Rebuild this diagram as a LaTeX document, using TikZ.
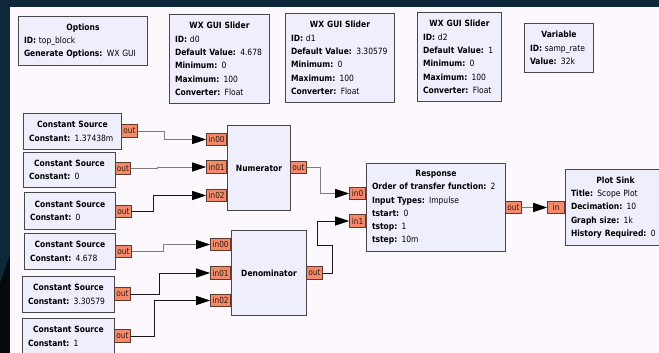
\documentclass[tikz,border=0pt]{standalone}
\usepackage{fontspec}
\setmainfont{DejaVu Sans}[FakeStretch=0.88]
\usetikzlibrary{arrows.meta}
\definecolor{navy}{RGB}{13,40,56}
\definecolor{blackish}{RGB}{6,10,14}
\definecolor{canvas}{RGB}{253,248,253}
\definecolor{blkfill}{RGB}{238,238,252}
\definecolor{bord}{RGB}{72,72,72}
\definecolor{portfill}{RGB}{244,138,106}
\definecolor{portbord}{RGB}{90,60,50}
\definecolor{porttext}{RGB}{50,25,15}
\definecolor{wiregray}{RGB}{125,125,125}
\definecolor{wiredark}{RGB}{25,25,25}
\newcommand\btl[1]{\makebox[\linewidth][c]{\bfseries #1}}
\newcommand\fld[2]{\mbox{\textbf{#1:} #2}}
\begin{document}
\begin{tikzpicture}[x=1pt,y=-1pt,
  blk/.style={draw=bord, fill=blkfill, line width=1pt, rectangle, anchor=north west,
    inner xsep=5.5pt, inner ysep=0pt, align=left, font=\fontsize{8.6}{13.3}\selectfont},
  cblk/.style={draw=bord, fill=blkfill, line width=1pt, rectangle, anchor=north west,
    inner sep=0pt, align=center, font=\fontsize{8.6}{13.3}\selectfont\bfseries},
  port/.style={draw=portbord, fill=portfill, line width=0.8pt, inner xsep=1pt, inner ysep=0pt,
    minimum height=12.5pt, font=\fontsize{8.4}{9}\selectfont, text=porttext},
  wire/.style={line width=0.9pt, draw=wiregray, -{Triangle[length=14pt,width=9pt,color=black]}},
  wireb/.style={line width=0.9pt, draw=wiredark, -{Triangle[length=14pt,width=9pt,color=black]}}
]
\useasboundingbox (0,0) rectangle (659,353);
\clip (0,0) rectangle (659,353);
% background
\fill[navy] (0,0) rectangle (659,353);
\fill[blackish] (0,283) -- (10,255) -- (10,353) -- (0,353) -- cycle;
\fill[canvas] (10,7.5) rectangle (659,353);

% top blocks
\node[blk, text width=118pt, minimum height=49pt] (opt) at (18,16)
  {\btl{Options}\\\fld{ID}{top\_block}\\\fld{Generate Options}{WX GUI}};
\node[blk, text width=89pt, minimum height=89pt] (s0) at (169,14)
  {\btl{WX GUI Slider}\\\fld{ID}{d0}\\\fld{Default Value}{4.678}\\\fld{Minimum}{0}\\\fld{Maximum}{100}\\\fld{Converter}{Float}};
\node[blk, text width=98pt, minimum height=89pt] (s1) at (285,13)
  {\btl{WX GUI Slider}\\\fld{ID}{d1}\\\fld{Default Value}{3.30579}\\\fld{Minimum}{0}\\\fld{Maximum}{100}\\\fld{Converter}{Float}};
\node[blk, text width=73pt, minimum height=89pt] (s2) at (417,12)
  {\btl{WX GUI Slider}\\\fld{ID}{d2}\\\fld{Default Value}{1}\\\fld{Minimum}{0}\\\fld{Maximum}{100}\\\fld{Converter}{Float}};
\node[blk, text width=58pt, minimum height=49pt] (var) at (524,23)
  {\btl{Variable}\\\fld{ID}{samp\_rate}\\\fld{Value}{32k}};

% constant sources
\node[blk, text width=87pt, minimum height=36pt] (cs1) at (23,113)
  {\btl{Constant Source}\\\fld{Constant}{1.37438m}};
\node[blk, text width=81pt, minimum height=35pt] (cs2) at (23,152)
  {\btl{Constant Source}\\\fld{Constant}{0}};
\node[blk, text width=80pt, minimum height=37pt] (cs3) at (24,192)
  {\btl{Constant Source}\\\fld{Constant}{0}};
\node[blk, text width=80pt, minimum height=36pt] (cs4) at (24,233)
  {\btl{Constant Source}\\\fld{Constant}{4.678}};
\node[blk, text width=81pt, minimum height=36pt] (cs5) at (22,276)
  {\btl{Constant Source}\\\fld{Constant}{3.30579}};
\node[blk, text width=81pt, minimum height=36pt] (cs6) at (22,318)
  {\btl{Constant Source}\\\fld{Constant}{1}};

% processing blocks
\node[cblk, minimum width=63pt, minimum height=85pt] (num) at (227,125) {Numerator};
\node[cblk, minimum width=75pt, minimum height=85pt] (den) at (231,230) {Denominator};
\node[blk, text width=128pt, minimum height=88pt] (res) at (366,163)
  {\btl{Response}\\\fld{Order of transfer function}{2}\\\fld{Input Types}{Impulse}\\\fld{tstart}{0}\\\fld{tstop}{1}\\\fld{tstep}{10m}};
\node[blk, text width=89pt, minimum height=76pt] (sink) at (565,169)
  {\btl{Plot Sink}\\\fld{Title}{Scope Plot}\\\fld{Decimation}{10}\\\fld{Graph size}{1k}\\\fld{History Required}{0}};

% ports
\node[port, minimum width=16pt, anchor=west] (cs1o) at (121,131) {out};
\node[port, minimum width=15pt, anchor=west] (cs2o) at (115,168.5) {out};
\node[port, minimum width=16pt, anchor=west] (cs3o) at (115,211.5) {out};
\node[port, minimum width=16pt, anchor=west] (cs4o) at (115,251.5) {out};
\node[port, minimum width=16pt, anchor=west] (cs5o) at (114,294) {out};
\node[port, minimum width=16pt, anchor=west] (cs6o) at (114,336) {out};

\node[port, minimum width=20pt, anchor=east] (n0) at (227,139.5) {in00};
\node[port, minimum width=20pt, anchor=east] (n1) at (227,167) {in01};
\node[port, minimum width=20pt, anchor=east] (n2) at (227,195.5) {in02};
\node[port, minimum width=16pt, anchor=west] (numo) at (290,167.5) {out};

\node[port, minimum width=20pt, anchor=east] (d0) at (231,244.5) {in00};
\node[port, minimum width=20pt, anchor=east] (d1) at (231,273) {in01};
\node[port, minimum width=20pt, anchor=east] (d2) at (231,300.5) {in02};
\node[port, minimum width=16pt, anchor=west] (deno) at (306,273) {out};

\node[port, minimum width=16pt, anchor=east] (ri0) at (366,193.5) {in0};
\node[port, minimum width=16pt, anchor=east] (ri1) at (366,221) {in1};
\node[port, minimum width=16pt, anchor=west] (reso) at (505,207.5) {out};
\node[port, minimum width=17pt, anchor=east] (sinki) at (565,207.5) {in};

% wires
\draw[wire]  (cs1o.east) -- ++(27,0) |- (n0.west);
\draw[wire]  (cs2o.east) -- ++(27,0) |- (n1.west);
\draw[wireb] (cs3o.east) -- ++(22,0) |- (n2.west);
\draw[wire]  (numo.east) -- ++(14,0) |- (ri0.west);
\draw[wire]  (cs4o.east) -- ++(32,0) |- (d0.west);
\draw[wireb] (cs5o.east) -- ++(29,0) |- (d1.west);
\draw[wireb] (cs6o.east) -- ++(24,0) |- (d2.west);
\draw[wireb] (deno.east) -- ++(10,0) -- ++(0,-28) -- ++(-15,0) |- (ri1.west);
\draw[wire]  (reso.east) -- (sinki.west);
\end{tikzpicture}
\end{document}
